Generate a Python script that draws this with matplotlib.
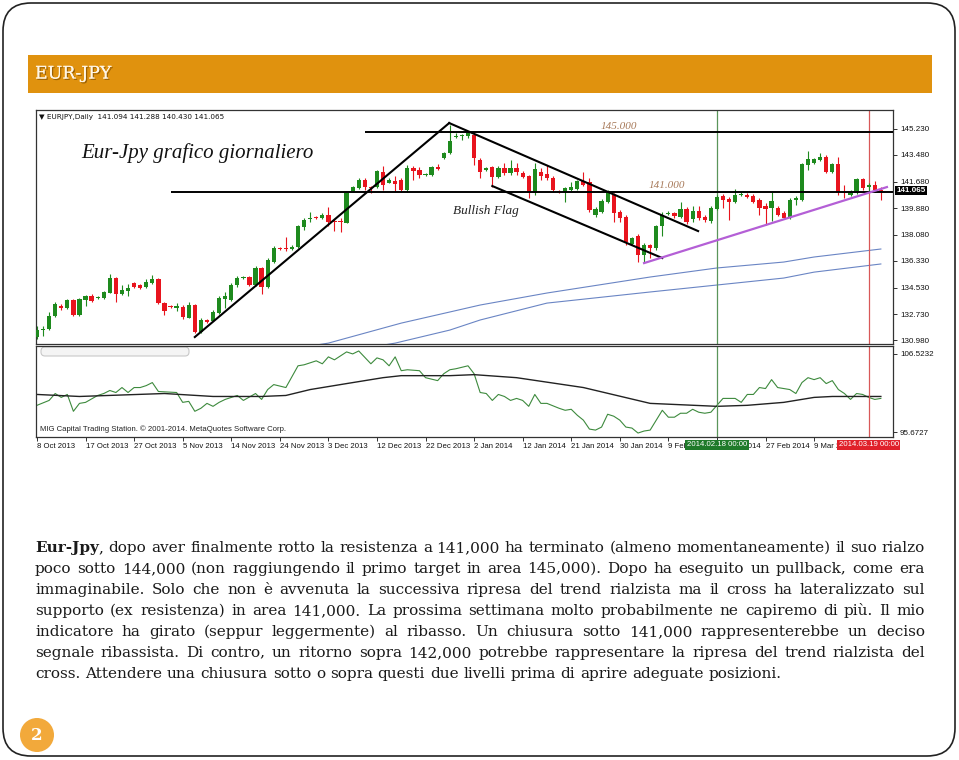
import numpy as np
import matplotlib
matplotlib.use("Agg")
import matplotlib.pyplot as plt
import matplotlib.transforms as mtransforms
import matplotlib.patheffects as pe
from matplotlib.patches import FancyBboxPatch, Rectangle, Circle

W, H = 959, 760

# EURJPY daily candles (bar 0 = 8 Oct 2013)
opens = [131.19, 131.66, 131.73, 132.61, 133.28, 133.15, 133.69, 132.67, 133.69, 133.96,
         133.82, 133.82, 134.16, 135.17, 134.09, 134.29, 134.83, 134.70, 134.56, 134.83,
         135.10, 133.48, 133.28, 133.15, 133.21, 132.47, 133.35, 131.52, 132.34, 132.27,
         132.81, 133.75, 133.69, 134.70, 135.17, 135.24, 134.70, 135.85, 134.56, 136.25,
         137.20, 137.20, 137.13, 137.26, 138.61, 139.15, 139.29, 139.22, 139.42, 139.02,
         139.02, 138.88, 141.04, 141.25, 141.79, 141.31, 141.31, 142.33, 141.58, 141.72,
         141.79, 141.11, 142.60, 142.46, 142.12, 142.12, 142.66, 143.27, 143.61, 144.69,
         144.76, 144.76, 144.83, 143.14, 142.46, 142.66, 141.99, 142.60, 142.26, 142.60,
         142.26, 142.06, 140.91, 142.33, 142.19, 141.92, 141.04, 140.98, 141.11, 141.18,
         141.72, 141.65, 139.42, 139.63, 140.30, 140.77, 139.63, 139.29, 137.47, 138.01,
         136.72, 137.40, 137.20, 138.68, 139.49, 139.56, 139.29, 139.83, 139.15, 139.69,
         139.29, 139.02, 139.83, 140.71, 140.50, 140.30, 140.77, 140.77, 140.71, 140.44,
         140.03, 139.90, 139.90, 139.56, 139.22, 140.44, 140.44, 142.80, 142.93, 143.14,
         143.34, 142.33, 142.87, 140.98, 140.77, 140.91, 141.85, 141.31, 141.45, 141.094]
closes = [131.66, 131.73, 132.61, 133.42, 133.15, 133.69, 132.67, 133.75, 133.96, 133.62,
          133.89, 134.23, 135.17, 134.09, 134.36, 134.50, 134.56, 134.50, 134.90, 135.10,
          133.48, 132.94, 133.21, 133.28, 132.54, 133.35, 131.52, 132.34, 132.20, 132.88,
          133.82, 133.96, 134.70, 135.17, 135.24, 134.70, 135.85, 134.56, 136.39, 137.20,
          137.13, 137.13, 137.26, 138.68, 139.09, 139.22, 139.22, 139.42, 138.95, 138.95,
          138.95, 140.91, 141.31, 141.79, 141.31, 141.25, 142.39, 141.45, 141.79, 141.52,
          141.11, 142.60, 142.39, 142.12, 142.19, 142.66, 142.53, 143.61, 144.42, 144.76,
          144.83, 144.96, 143.27, 142.33, 142.60, 141.99, 142.60, 142.26, 142.60, 142.33,
          141.99, 140.91, 142.53, 142.06, 141.92, 141.11, 140.98, 141.25, 141.31, 141.72,
          141.45, 139.76, 139.83, 140.37, 140.91, 139.56, 139.22, 137.60, 137.87, 136.72,
          137.40, 137.20, 138.68, 139.42, 139.56, 139.36, 139.83, 138.95, 139.69, 139.22,
          139.09, 139.90, 140.64, 140.44, 140.30, 140.77, 140.84, 140.64, 140.30, 139.90,
          139.83, 140.37, 139.42, 139.22, 140.44, 140.57, 142.87, 143.20, 143.20, 143.34,
          142.33, 142.87, 140.91, 140.91, 140.98, 141.85, 141.25, 141.45, 141.11, 141.065]
highs = [131.93, 131.93, 132.88, 133.55, 133.42, 133.75, 133.75, 133.82, 134.02, 134.09,
         133.96, 134.29, 135.44, 135.24, 134.70, 134.77, 134.90, 134.77, 135.10, 135.37,
         135.17, 133.55, 133.35, 133.48, 133.35, 133.55, 133.42, 132.47, 132.40, 133.01,
         133.96, 134.23, 134.83, 135.31, 135.31, 135.31, 135.98, 135.91, 136.52, 137.33,
         137.26, 137.94, 137.40, 138.75, 139.22, 139.63, 139.36, 139.56, 139.96, 139.15,
         139.22, 140.98, 141.38, 141.92, 141.92, 141.38, 142.46, 142.73, 141.92, 142.06,
         141.92, 142.80, 142.73, 142.66, 142.26, 142.73, 142.87, 143.68, 145.50, 144.96,
         144.89, 145.10, 144.96, 143.27, 142.66, 142.73, 142.73, 142.93, 143.14, 142.93,
         142.39, 142.12, 142.93, 142.60, 142.80, 142.06, 141.11, 141.31, 141.65, 141.79,
         142.33, 141.92, 139.96, 140.50, 141.11, 140.91, 139.76, 139.42, 137.94, 138.14,
         137.53, 137.47, 138.75, 139.63, 139.69, 139.63, 140.30, 139.96, 140.03, 140.03,
         139.42, 140.03, 140.77, 140.84, 140.64, 141.18, 140.98, 140.91, 140.84, 140.57,
         140.23, 141.04, 140.03, 139.69, 140.57, 140.71, 142.93, 143.75, 143.27, 143.61,
         143.47, 142.93, 143.34, 141.45, 141.11, 141.92, 141.92, 141.58, 141.72, 141.288]
lows = [131.05, 131.25, 131.66, 132.54, 133.01, 133.08, 132.61, 132.61, 133.28, 133.55,
        133.75, 133.75, 134.16, 133.55, 134.02, 133.96, 134.50, 134.43, 134.50, 134.77,
        133.42, 132.67, 133.15, 132.94, 132.40, 132.47, 131.46, 131.46, 132.13, 132.27,
        132.74, 133.15, 133.62, 134.56, 135.10, 134.63, 134.63, 134.09, 134.50, 136.18,
        137.06, 136.99, 137.06, 137.20, 138.41, 138.95, 139.15, 139.15, 138.68, 138.34,
        138.28, 138.88, 140.98, 141.18, 141.11, 140.91, 141.25, 141.11, 141.58, 141.04,
        140.98, 140.98, 141.79, 141.92, 142.06, 142.06, 142.46, 143.20, 143.54, 144.62,
        144.49, 144.62, 142.80, 141.92, 142.39, 141.31, 141.92, 142.12, 142.12, 142.12,
        141.92, 140.57, 140.77, 141.79, 141.79, 140.98, 140.91, 140.30, 141.04, 141.11,
        141.38, 139.63, 139.29, 139.56, 140.23, 138.95, 138.95, 137.40, 137.40, 136.25,
        136.25, 136.52, 137.06, 138.01, 139.42, 139.22, 139.22, 138.82, 138.95, 139.09,
        138.95, 138.88, 139.76, 139.90, 139.09, 140.23, 140.71, 140.57, 140.23, 139.42,
        138.75, 139.02, 139.36, 139.15, 139.15, 140.10, 140.37, 142.46, 142.87, 143.07,
        142.26, 142.26, 140.77, 140.57, 140.71, 140.84, 141.11, 140.98, 140.98, 140.430]

price_ticks = [130.980, 132.730, 134.530, 136.330, 138.080, 139.880, 141.680, 143.480, 145.230]
last_price = 141.065

# the two blue moving averages (bar index, price)
ma_a_idx = [40, 48, 60, 68, 73, 84, 101, 112, 123, 128, 139]
ma_a_val = [130.25, 130.78, 132.13, 132.88, 133.35, 134.16, 135.24, 135.85, 136.25, 136.59, 137.13]
ma_b_idx = [52, 59, 68, 73, 84, 101, 112, 123, 128, 139]
ma_b_val = [130.30, 130.78, 131.66, 132.34, 133.48, 134.23, 134.70, 135.17, 135.57, 136.12]

# drawn lines on the chart
up_trend = ([26.0, 67.9], [131.19, 145.63])
flag_top = ([67.9, 108.9], [145.63, 138.34])
flag_bottom = ([75.0, 103.0], [141.38, 136.52])
support = ([100.0, 140.0], [136.18, 141.31])
level_hi, level_hi_start = 145.0, 54
level_lo, level_lo_start = 141.0, 22
green_mark, red_mark = 112, 137

# lower indicator panel
osc_idx = [0, 2, 3, 4, 5, 6, 7, 8, 10, 11, 12, 13, 14, 15, 16, 17, 18, 19, 20, 23,
           24, 25, 26, 27, 28, 29, 30, 31, 33, 34, 36, 37, 38, 39, 41, 43, 44, 46, 47, 48,
           49, 51, 52, 53, 55, 56, 57, 58, 59, 60, 61, 63, 64, 66, 67, 68, 69, 71, 72, 73,
           74, 75, 76, 77, 78, 79, 80, 81, 82, 83, 84, 86, 87, 88, 89, 90, 91, 92, 93, 94,
           95, 96, 97, 98, 99, 100, 101, 103, 104, 105, 106, 107, 108, 109, 110, 111, 112, 113, 115, 116,
           117, 118, 119, 120, 121, 122, 123, 124, 125, 126, 127, 128, 129, 130, 131, 132, 133, 134, 135, 136,
           137, 138, 139]
osc_val = [99.38, 100.06, 101.02, 100.48, 100.89, 98.55, 99.65, 99.79, 100.75, 101.02, 101.44, 101.16, 101.85, 101.16, 101.85, 101.85, 102.12, 102.54, 101.30, 101.16,
           99.79, 99.93, 98.55, 98.97, 99.65, 99.24, 99.79, 100.20, 100.75, 100.06, 101.02, 100.20, 101.57, 102.26, 101.85, 104.87, 105.01, 105.56, 105.15, 106.11,
           105.70, 106.80, 106.52, 106.93, 105.15, 105.97, 105.70, 104.87, 106.11, 104.19, 104.32, 104.19, 103.22, 102.81, 103.77, 104.32, 104.46, 104.87, 103.77, 101.16,
           101.02, 100.06, 100.89, 100.61, 100.06, 100.34, 100.06, 99.24, 100.89, 99.65, 99.65, 98.97, 98.69, 98.83, 98.00, 97.32, 96.08, 95.94, 96.36, 98.14,
           97.87, 97.32, 96.36, 96.22, 95.53, 95.81, 95.94, 98.69, 97.73, 97.73, 98.28, 98.28, 98.83, 98.42, 98.28, 98.42, 99.38, 100.34, 100.34, 99.79,
           100.89, 100.89, 101.85, 101.71, 102.95, 101.85, 101.71, 101.57, 101.02, 102.54, 103.22, 102.95, 103.22, 102.40, 102.81, 101.57, 101.02, 100.20, 101.02, 100.89,
           100.48, 100.20, 100.34]
sig_idx = [0, 7, 21, 29, 37, 41, 45, 51, 57, 60, 68, 72, 79, 90, 101, 112, 117, 123, 128, 131, 139]
sig_val = [100.89, 100.61, 101.02, 100.61, 100.61, 100.75, 101.57, 102.40, 103.22, 103.50, 103.50, 103.64, 103.22, 101.85, 99.65, 99.24, 99.38, 99.79, 100.48, 100.61, 100.61]
osc_ticks = [95.6727, 106.5232]

date_idx = [0, 8, 16, 24, 32, 40, 48, 56, 64, 72, 80, 88, 96, 104, 112, 120, 128]
date_labels = ["8 Oct 2013", "17 Oct 2013", "27 Oct 2013", "5 Nov 2013", "14 Nov 2013",
               "24 Nov 2013", "3 Dec 2013", "12 Dec 2013", "22 Dec 2013", "2 Jan 2014",
               "12 Jan 2014", "21 Jan 2014", "30 Jan 2014", "9 Feb 2014", "18 Feb 2014",
               "27 Feb 2014", "9 Mar 2014"]

paragraph = [
    "Eur-Jpy, dopo aver finalmente rotto la resistenza a 141,000 ha terminato (almeno momentaneamente) il suo rialzo",
    "poco sotto 144,000 (non raggiungendo il primo target in area 145,000). Dopo ha eseguito un pullback, come era",
    "immaginabile. Solo che non è avvenuta la successiva ripresa del trend rialzista ma il cross ha lateralizzato sul",
    "supporto (ex resistenza) in area 141,000. La prossima settimana molto probabilmente ne capiremo di più. Il mio",
    "indicatore ha girato (seppur leggermente) al ribasso. Un chiusura sotto 141,000 rappresenterebbe un deciso",
    "segnale ribassista. Di contro, un ritorno sopra 142,000 potrebbe rappresentare la ripresa del trend rialzista del",
    "cross. Attendere una chiusura sotto o sopra questi due livelli prima di aprire adeguate posizioni.",
]

UP, DOWN = "#1e8a1e", "#e8141e"
SMALL = "Liberation Sans"

fig = plt.figure(figsize=(W / 100, H / 100), dpi=100)

# slide background, drawn in pixel units
bg = fig.add_axes([0, 0, 1, 1])
bg.set_xlim(0, W)
bg.set_ylim(H, 0)
bg.axis("off")
bg.add_patch(FancyBboxPatch((3, 3), W - 7, H - 7, boxstyle="round,pad=0,rounding_size=28",
                            fc="white", ec="#222222", lw=1.2))
bg.add_patch(Rectangle((28, 55), 904, 38, fc="#e0920e", ec="none"))
bg.text(35, 74, "EUR-JPY", family="DejaVu Serif", fontsize=12.5, color="#fff6e6", va="center",
        path_effects=[pe.withSimplePatchShadow(offset=(1, -1), shadow_rgbFace="#6a4000", alpha=0.6), pe.Normal()])
bg.add_patch(Circle((37, 735), 17, fc="#f2a93b", ec="none"))
bg.text(37, 736, "2", family="DejaVu Serif", fontsize=12, weight="bold", color="white", ha="center", va="center")

# justified paragraph
fig.canvas.draw()
renderer = fig.canvas.get_renderer()
fs = 11
ff = "DejaVu Serif"
x0, x1 = 35, 925
line_y = [548, 569, 590, 611, 632, 653, 674]
for n, (line, y) in enumerate(zip(paragraph, line_y)):
    words = line.split(" ")
    pieces = []
    for k, w in enumerate(words):
        if n == 0 and k == 0:
            segs = [(w[:-1], "bold"), (w[-1], "normal")]
        else:
            segs = [(w, "normal")]
        arts = []
        for s, wt in segs:
            t = bg.text(0, y, s, family=ff, fontsize=fs, weight=wt, color="#1a1a1a", va="center", ha="left")
            arts.append((t, t.get_window_extent(renderer).width))
        pieces.append(arts)
    total = sum(bw for arts in pieces for _, bw in arts)
    if n == len(paragraph) - 1:
        gap = 0.32 * fs * 100 / 72
    else:
        gap = (x1 - x0 - total) / (len(pieces) - 1)
    x = x0
    for arts in pieces:
        for t, bw in arts:
            t.set_x(x)
            x += bw
        x += gap

# price panel
ax = fig.add_axes([36 / W, 1 - 344 / H, 857 / W, 234 / H])
bars = np.arange(len(closes))
o = np.array(opens)
c = np.array(closes)
cols = [UP if cc > oo else DOWN for oo, cc in zip(o, c)]
ax.vlines(bars, lows, highs, colors=cols, lw=0.8, zorder=2)
ax.bar(bars, np.maximum(np.abs(c - o), 0.05), bottom=np.minimum(o, c), width=0.7,
       color=cols, linewidth=0, zorder=3)

ax.plot(ma_a_idx, ma_a_val, color="#6a85c4", lw=0.8, zorder=1)
ax.plot(ma_b_idx, ma_b_val, color="#6a85c4", lw=0.8, zorder=1)
ax.hlines(level_hi, level_hi_start, 141, color="black", lw=1.4, zorder=4)
ax.hlines(level_lo, level_lo_start, 141, color="black", lw=1.4, zorder=4)
for xs, ys in (up_trend, flag_top, flag_bottom):
    ax.plot(xs, ys, color="black", lw=1.5, zorder=4)
ax.plot(*support, color="#b45fd6", lw=1.6, zorder=4)
ax.axvline(green_mark, color="#5a955a", lw=0.9, zorder=1)
ax.axvline(red_mark, color="#d85858", lw=0.9, zorder=1)

ax.text(7.3, 143.6, "Eur-Jpy grafico giornaliero", family="Liberation Serif", style="italic",
        fontsize=15, color="#111111", va="center")
ax.text(68.5, 139.69, "Bullish Flag", family="Liberation Serif", style="italic",
        fontsize=9.5, color="#222222", va="center")
ax.text(92.8, 145.4, "145.000", family="Liberation Serif", style="italic", fontsize=8,
        color="#a87a5a", va="center")
ax.text(100.7, 141.4, "141.000", family="Liberation Serif", style="italic", fontsize=8,
        color="#a87a5a", va="center")
ax.text(0.004, 0.968, "\u25bc EURJPY,Daily  141.094 141.288 140.430 141.065", transform=ax.transAxes,
        fontsize=5.2, va="center", color="#111111")

ax.set_xlim(-0.16, 141.0)
ax.set_ylim(130.72, 146.51)
ax.set_xticks([])
ax.yaxis.tick_right()
ax.set_yticks(price_ticks)
ax.set_yticklabels([f"{v:.3f}" for v in price_ticks], family=SMALL)
ax.tick_params(axis="y", length=3, width=0.6, pad=2, labelsize=5.8, colors="#111111")
trans = mtransforms.blended_transform_factory(ax.transAxes, ax.transData)
ax.text(1.004, last_price, f"{last_price:.3f}", transform=trans, fontsize=5.8, family=SMALL, color="white",
        va="center", ha="left", weight="bold",
        bbox=dict(boxstyle="square,pad=0.15", fc="black", ec="none"), zorder=6)
for s in ax.spines.values():
    s.set_color("#333333")
    s.set_linewidth(0.9)

# indicator panel
ax2 = fig.add_axes([36 / W, 1 - 437 / H, 857 / W, 91 / H])
ax2.plot(osc_idx, osc_val, color="#3d8a3d", lw=0.8)
ax2.plot(sig_idx, sig_val, color="#222222", lw=1.0)
ax2.axvline(green_mark, color="#5a955a", lw=0.9)
ax2.axvline(red_mark, color="#d85858", lw=0.9)
ax2.set_xlim(-0.16, 141.0)
ax2.set_ylim(94.98, 107.62)
ax2.yaxis.tick_right()
ax2.set_yticks(osc_ticks)
ax2.set_yticklabels([f"{v:.4f}" for v in osc_ticks], family=SMALL)
ax2.tick_params(axis="y", length=3, width=0.6, pad=2, labelsize=5.8, colors="#111111")
ax2.set_xticks(date_idx)
ax2.set_xticklabels(date_labels, family=SMALL)
ax2.tick_params(axis="x", length=3, width=0.6, pad=1.5, labelsize=5.6, colors="#111111")
for lab in ax2.get_xticklabels():
    lab.set_horizontalalignment("left")
ax2.text(0.005, 0.09, "MIG Capital Trading Station. \u00a9 2001-2014. MetaQuotes Software Corp.",
         transform=ax2.transAxes, fontsize=5.6, family=SMALL, color="#222222", va="center")
ax2.add_patch(FancyBboxPatch((41, 347), 148, 9, boxstyle="round,pad=0,rounding_size=4",
                             transform=bg.transData, fc="#f4f4f4", ec="#c8c8c8", lw=0.8, clip_on=False))
dtrans = mtransforms.blended_transform_factory(ax2.transData, ax2.transAxes)
ax2.text(green_mark, -0.045, "2014.02.18 00:00", transform=dtrans, ha="center", va="top", fontsize=5.6,
         family=SMALL, color="white", bbox=dict(boxstyle="square,pad=0.2", fc="#1f7a2a", ec="none"), zorder=6)
ax2.text(red_mark, -0.045, "2014.03.19 00:00", transform=dtrans, ha="center", va="top", fontsize=5.6,
         family=SMALL, color="white", bbox=dict(boxstyle="square,pad=0.2", fc="#e0202a", ec="none"), zorder=6)
for s in ax2.spines.values():
    s.set_color("#333333")
    s.set_linewidth(0.9)

fig.savefig("out.png", dpi=100, facecolor="white")
